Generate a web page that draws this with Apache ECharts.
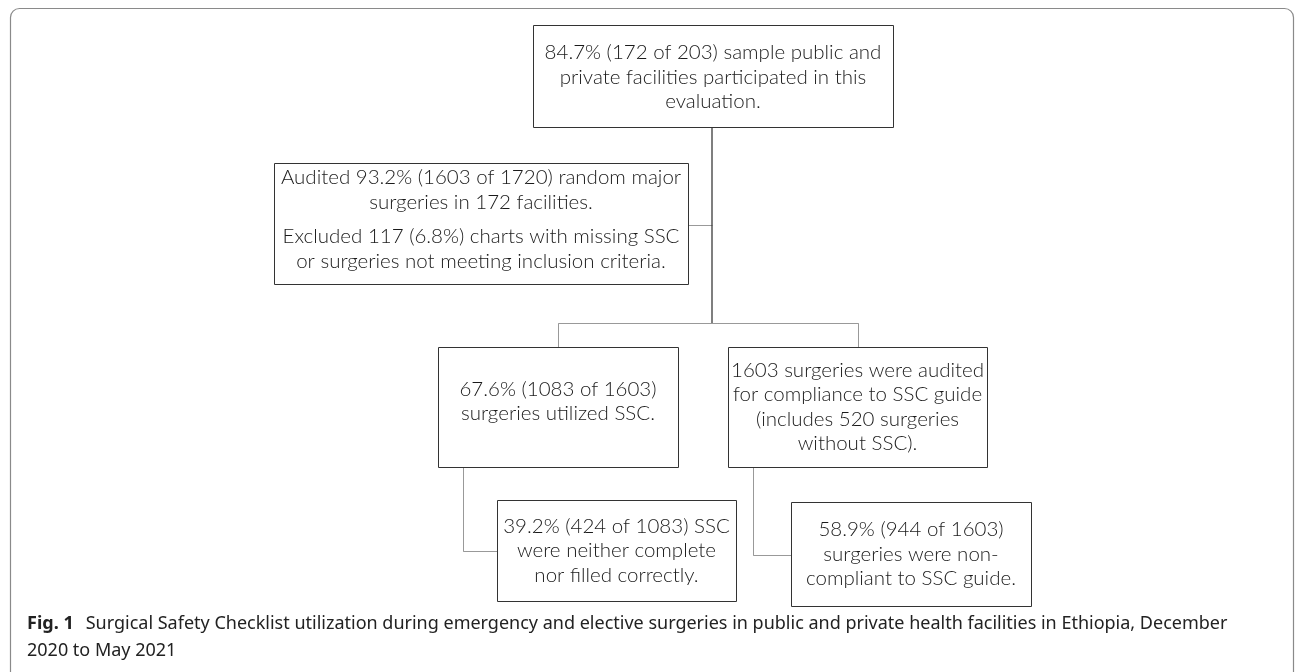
<!DOCTYPE html>
<html>
<head>
    <meta charset="utf-8">
    <script src="https://cdn.jsdelivr.net/npm/echarts@6/dist/echarts.min.js"></script>
    <style>
        html, body { margin: 0; padding: 0; background: #fff; }
    </style>
</head>
<body>
<div id="flow-chart" style="width: 1295px;height:672px;"></div>
<script>
  // box texts, one entry per line, '' = paragraph gap
  var boxLines = [
    ['84.7% (172 of 203) sample public and', 'private facilities participated in this', 'evaluation.'],
    ['Audited 93.2% (1603 of 1720) random major', 'surgeries in 172 facilities.', '', 'Excluded 117 (6.8%) charts with missing SSC', 'or surgeries not meeting inclusion criteria.'],
    ['67.6% (1083 of 1603)', 'surgeries utilized SSC.'],
    ['1603 surgeries were audited', 'for compliance to SSC guide', '(includes 520 surgeries', 'without SSC).'],
    ['39.2% (424 of 1083) SSC', 'were neither complete', 'nor filled correctly.'],
    ['58.9% (944 of 1603)', 'surgeries were non-', 'compliant to SSC guide.']
  ];
  // box layout (left, top, right, bottom, text shift)
  var boxLeft   = [533, 274, 438, 728, 497, 791];
  var boxTop    = [25, 163, 347, 347, 500, 502];
  var boxRight  = [893, 688, 678, 987, 736, 1031];
  var boxBottom = [127, 284, 467, 467, 601, 606];
  var textShift = [1, -4, -5.5, 0, 0, 0];

  // connectors
  var links = [
    [[712, 127], [712, 323]],
    [[688, 225], [712, 225]],
    [[558, 347], [558, 323], [858, 323], [858, 347]],
    [[463, 467], [463, 551], [497, 551]],
    [[753, 467], [753, 555], [791, 555]]
  ];
  var linkWidth = [2, 1, 1, 1, 1];

  var captionBold = 'Fig. 1';
  var captionText = 'Surgical Safety Checklist utilization during emergency and elective surgeries in public and private health facilities in Ethiopia, December';
  var captionText2 = '2020 to May 2021';

  var lineH = 24.5;
  var paraGap = 10;

  var myChart = echarts.init(document.getElementById('flow-chart'));

  var boxData = [];
  for (var i = 0; i < boxLines.length; i++) {
    boxData.push([boxLeft[i], boxTop[i], boxRight[i], boxBottom[i], i]);
  }

  var linkData = [];
  for (var j = 0; j < links.length; j++) {
    // half pixel shift so 1px lines stay sharp
    var off = linkWidth[j] % 2 ? 0.5 : 0;
    var pts = [];
    for (var n = 0; n < links[j].length; n++) {
      pts.push([links[j][n][0] + off, links[j][n][1] + off]);
    }
    linkData.push({
      coords: pts,
      lineStyle: { width: linkWidth[j], color: linkWidth[j] > 1 ? '#000' : '#333' }
    });
  }

  function renderBox(params, api) {
    var idx = api.value(4);
    var p0 = api.coord([api.value(0), api.value(1)]);
    var p1 = api.coord([api.value(2), api.value(3)]);
    var lines = boxLines[idx];
    // total height of text block
    var total = 0;
    for (var k = 0; k < lines.length; k++) {
      total += lines[k] === '' ? paraGap : lineH;
    }
    var cx = (p0[0] + p1[0]) / 2;
    var y = (p0[1] + p1[1]) / 2 - total / 2 + textShift[idx];
    var children = [{
      type: 'rect',
      shape: { x: Math.round(p0[0]) + 0.5, y: Math.round(p0[1]) + 0.5, width: p1[0] - p0[0], height: p1[1] - p0[1] },
      style: { fill: '#fff', stroke: '#333', lineWidth: 1 }
    }];
    for (var m = 0; m < lines.length; m++) {
      if (lines[m] === '') { y += paraGap; continue; }
      children.push({
        type: 'text',
        style: {
          text: lines[m],
          x: cx,
          y: y + lineH / 2,
          align: 'center',
          verticalAlign: 'middle',
          fill: '#1a1a1a',
          font: '300 20.5px Lato, "Open Sans", sans-serif'
        }
      });
      y += lineH;
    }
    return { type: 'group', children: children };
  }

  var option = {
    animation: false,
    backgroundColor: '#fff',
    grid: { left: 0, right: 0, top: 0, bottom: 0 },
    xAxis: { type: 'value', min: 0, max: 1295, show: false },
    yAxis: { type: 'value', min: 0, max: 672, inverse: true, show: false },
    title: {
      left: 27,
      top: 610,
      padding: 0,
      text: '{b|' + captionBold + '}' + captionText + '\n' + captionText2,
      textStyle: {
        fontFamily: '"Noto Sans", sans-serif',
        fontSize: 18,
        fontWeight: 'normal',
        color: '#222',
        lineHeight: 27,
        rich: {
          b: {
            fontFamily: '"Noto Sans", sans-serif', fontSize: 18, fontWeight: 'bold',
            color: '#222', lineHeight: 27, padding: [0, 12, 0, 0]
          }
        }
      }
    },
    graphic: [{
      type: 'rect',
      shape: { x: 10.5, y: 8.5, width: 1283, height: 700, r: 9 },
      style: { fill: 'none', stroke: '#8a8a8a', lineWidth: 1.2 },
      z: 0
    }],
    series: [{
      type: 'lines',
      coordinateSystem: 'cartesian2d',
      polyline: true,
      data: linkData,
      z: 2
    }, {
      type: 'custom',
      coordinateSystem: 'cartesian2d',
      renderItem: renderBox,
      data: boxData,
      encode: { x: [0, 2], y: [1, 3] },
      z: 3
    }]
  };
  myChart.setOption(option);
</script>
</body>
</html>
